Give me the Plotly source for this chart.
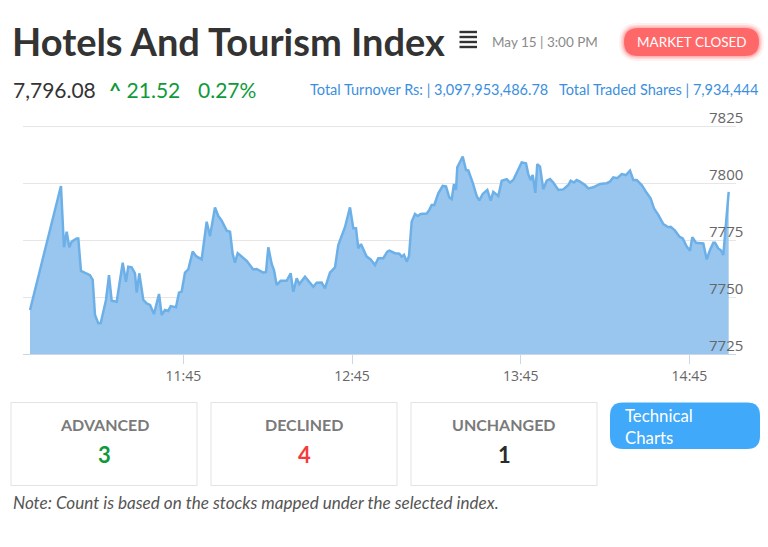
import plotly.graph_objects as go

# ---------------- data ----------------
DAY = "2024-05-15"
times = [
    "10:50:30", "11:01:30", "11:02:34", "11:03:32", "11:04:28", "11:05:19", "11:07:05", "11:07:40",
    "11:08:37", "11:11:49", "11:12:47", "11:13:36", "11:14:46", "11:15:38", "11:17:31", "11:18:35",
    "11:19:32", "11:21:19", "11:23:27", "11:24:37", "11:25:26", "11:26:39", "11:27:49", "11:28:26",
    "11:29:21", "11:30:47", "11:31:59", "11:33:10", "11:34:35", "11:36:22", "11:37:19", "11:38:29",
    "11:39:40", "11:40:31", "11:42:24", "11:43:28", "11:44:26", "11:45:36", "11:46:47", "11:48:20",
    "11:49:31", "11:51:32", "11:53:19", "11:54:30", "11:56:16", "11:57:27", "11:58:40", "12:00:26",
    "12:01:37", "12:02:34", "12:03:23", "12:04:21", "12:07:33", "12:09:53", "12:11:06", "12:13:27",
    "12:14:25", "12:15:14", "12:16:26", "12:17:15", "12:18:13", "12:19:38", "12:21:46", "12:23:11",
    "12:24:07", "12:25:20", "12:26:15", "12:28:17", "12:31:14", "12:32:26", "12:34:13", "12:35:23",
    "12:37:10", "12:38:57", "12:40:07", "12:42:30", "12:44:17", "12:45:28", "12:46:25", "12:47:14",
    "12:48:11", "12:50:13", "12:51:38", "12:53:10", "12:54:21", "12:56:07", "12:57:33", "12:58:16",
    "13:00:17", "13:01:49", "13:02:40", "13:03:29", "13:04:27", "13:05:16", "13:06:13", "13:07:24",
    "13:08:22", "13:09:25", "13:11:34", "13:12:29", "13:13:20", "13:14:16", "13:15:41", "13:17:15",
    "13:18:25", "13:19:35", "13:20:27", "13:21:16", "13:21:59", "13:22:26", "13:24:22", "13:25:32",
    "13:26:21", "13:27:55", "13:29:20", "13:30:16", "13:31:28", "13:33:07", "13:34:19", "13:35:14",
    "13:37:01", "13:38:14", "13:40:01", "13:41:11", "13:42:21", "13:44:08", "13:45:20", "13:46:52",
    "13:47:41", "13:48:32", "13:49:15", "13:50:11", "13:50:53", "13:51:51", "13:53:01", "13:54:14",
    "13:55:25", "13:56:35", "13:58:22", "14:00:08", "14:01:55", "14:02:46", "14:03:56", "14:04:54",
    "14:06:04", "14:07:51", "14:09:02", "14:10:48", "14:13:11", "14:15:34", "14:16:44", "14:17:55",
    "14:19:20", "14:20:54", "14:22:26", "14:23:51", "14:25:02", "14:26:14", "14:28:01", "14:29:47",
    "14:31:13", "14:32:23", "14:33:55", "14:35:42", "14:37:29", "14:38:20", "14:39:52", "14:41:23",
    "14:42:36", "14:44:01", "14:45:12", "14:46:01", "14:47:20", "14:49:55", "14:51:08", "14:52:18",
    "14:53:29", "14:54:05", "14:55:15", "14:56:07", "14:57:02", "14:58:57",
]
values = [
    7744.3, 7798.7, 7771.8, 7778.6, 7771.8, 7774.3, 7775.7, 7775.7,
    7761.4, 7759.6, 7757.5, 7742.1, 7738.5, 7738.6, 7748.7, 7759.6,
    7748.4, 7747.9, 7765.0, 7756.7, 7763.3, 7763.0, 7760.4, 7751.9,
    7760.4, 7748.7, 7747.2, 7746.5, 7742.5, 7751.3, 7742.1, 7744.3,
    7743.9, 7746.0, 7745.5, 7751.9, 7752.4, 7760.7, 7762.1, 7769.9,
    7768.0, 7766.5, 7783.0, 7776.7, 7789.3, 7785.5, 7783.5, 7779.1,
    7778.6, 7768.9, 7765.1, 7769.2, 7765.9, 7762.1, 7762.3, 7760.7,
    7761.0, 7771.8, 7764.5, 7761.8, 7755.3, 7757.1, 7757.1, 7760.4,
    7752.3, 7758.2, 7755.7, 7758.9, 7754.5, 7756.3, 7756.4, 7753.8,
    7760.7, 7763.0, 7772.8, 7780.6, 7789.3, 7780.1, 7780.1, 7771.3,
    7773.2, 7767.7, 7766.5, 7764.0, 7767.0, 7767.0, 7769.9, 7770.3,
    7769.2, 7769.0, 7767.7, 7768.5, 7765.5, 7768.0, 7783.0, 7786.4,
    7785.5, 7786.4, 7786.6, 7788.2, 7790.4, 7790.4, 7795.5, 7798.7,
    7798.5, 7793.7, 7792.9, 7799.6, 7797.0, 7806.9, 7811.6, 7805.7,
    7805.5, 7800.2, 7794.3, 7792.3, 7795.2, 7797.0, 7792.3, 7796.1,
    7794.3, 7801.0, 7801.7, 7800.2, 7801.3, 7806.4, 7809.0, 7808.6,
    7803.9, 7801.3, 7803.5, 7795.7, 7808.3, 7807.2, 7797.2, 7801.0,
    7801.7, 7800.2, 7797.0, 7797.2, 7799.1, 7801.0, 7800.2, 7801.3,
    7800.6, 7799.1, 7797.6, 7798.1, 7799.6, 7799.9, 7800.6, 7802.5,
    7802.1, 7803.9, 7803.5, 7805.4, 7801.3, 7801.3, 7799.1, 7795.7,
    7793.2, 7788.9, 7786.0, 7782.0, 7780.6, 7780.8, 7779.1, 7776.5,
    7775.7, 7772.1, 7770.3, 7776.2, 7773.8, 7773.5, 7766.5, 7770.6,
    7773.8, 7773.8, 7771.3, 7770.6, 7768.4, 7796.08,
]
x_tick_times = ["11:45", "12:45", "13:45", "14:45"]
y_ticks = [7725, 7750, 7775, 7800, 7825]
x_range_times = ["10:48:00", "15:01:33"]

title_text = "Hotels And Tourism Index"
date_text = "May 15 | 3:00 PM"
status_text = "MARKET CLOSED"
last_value = "7,796.08"
change_value = "21.52"
change_pct = "0.27%"
turnover_text = "Total Turnover Rs: | 3,097,953,486.78"
shares_text = "Total Traded Shares | 7,934,444"
box_labels = ["ADVANCED", "DECLINED", "UNCHANGED"]
box_counts = [3, 4, 1]
box_colors = ["#0e9a3a", "#f53b3b", "#2b2b2b"]
button_lines = ["Technical", "Charts"]
note_text = "Note: Count is based on the stocks mapped under the selected index."

# ---------------- layout helpers ----------------
W, H = 768, 547
FONT = "Lato"


def px(x):
    return x / W


def py(y):
    return 1 - y / H


def rrect(x0, y0, x1, y1, r):
    # rounded rectangle path in paper coords from pixel coords
    X0, X1 = px(x0), px(x1)
    Y0, Y1 = py(y0), py(y1)
    rx, ry = r / W, r / H
    return (f"M {X0+rx},{Y0} L {X1-rx},{Y0} Q {X1},{Y0} {X1},{Y0-ry} "
            f"L {X1},{Y1+ry} Q {X1},{Y1} {X1-rx},{Y1} L {X0+rx},{Y1} "
            f"Q {X0},{Y1} {X0},{Y1+ry} L {X0},{Y0-ry} Q {X0},{Y0} {X0+rx},{Y0} Z")


fig = go.Figure()
fig.add_trace(go.Scatter(
    x=[f"{DAY} {t}" for t in times], y=values, mode="lines",
    line=dict(color="#6db0e8", width=2.5),
    fill="tozeroy", fillcolor="rgba(152,198,238,1)",
    hoverinfo="skip", showlegend=False,
))

shapes = []
annotations = []

# menu icon
for yy in [32, 37, 42, 47]:
    shapes.append(dict(type="rect", xref="paper", yref="paper",
                       x0=px(459.5), x1=px(477), y0=py(yy - 1.2), y1=py(yy + 1.2),
                       fillcolor="#333333", line=dict(width=0)))

# market closed badge with glow
for grow, op in [(5, 0.10), (3, 0.18), (1.5, 0.28)]:
    shapes.append(dict(type="path", xref="paper", yref="paper",
                       path=rrect(624 - grow, 28 - grow, 759 + grow, 56 + grow, 14 + grow),
                       fillcolor=f"rgba(255,102,102,{op})", line=dict(width=0)))
shapes.append(dict(type="path", xref="paper", yref="paper",
                   path=rrect(624, 28, 759, 56, 14),
                   fillcolor="#ff6868", line=dict(width=0)))

# boxes
box_x = [(11, 197), (211, 397), (411, 597)]
for (x0, x1), lab, cnt, col in zip(box_x, box_labels, box_counts, box_colors):
    shapes.append(dict(type="rect", xref="paper", yref="paper",
                       x0=px(x0), x1=px(x1), y0=py(402.5), y1=py(485.5),
                       fillcolor="white", line=dict(color="#e3e3e3", width=1)))
    annotations.append(dict(x=px((x0 + x1) / 2), y=py(424.5), xref="paper", yref="paper",
                            text=f"<b>{lab}</b>", showarrow=False, xanchor="center", yanchor="middle",
                            font=dict(family=FONT, size=16, color="#7a7a7a")))
    annotations.append(dict(x=px((x0 + x1) / 2), y=py(454.5), xref="paper", yref="paper",
                            text=f"<b>{cnt}</b>", showarrow=False, xanchor="center", yanchor="middle",
                            font=dict(family=FONT, size=22, color=col)))

# technical charts button
shapes.append(dict(type="path", xref="paper", yref="paper",
                   path=rrect(610, 402.5, 760, 449, 13),
                   fillcolor="#41a9f9", line=dict(width=0)))
annotations.append(dict(x=px(623), y=py(426.5), xref="paper", yref="paper",
                        text="<br>".join(button_lines), align="left",
                        showarrow=False, xanchor="left", yanchor="middle",
                        font=dict(family=FONT, size=16.8, color="white")))

# header texts
annotations += [
    dict(x=px(10), y=py(41), text=f"<b>{title_text}</b>", xanchor="left",
         font=dict(family=FONT, size=38, color="#333333")),
    dict(x=px(490), y=py(42), text=date_text, xanchor="left",
         font=dict(family=FONT, size=13.5, color="#8a8a8a")),
    dict(x=px(691.5), y=py(42), text=status_text, xanchor="center",
         font=dict(family=FONT, size=13.5, color="white")),
    dict(x=px(11), y=py(90), text=last_value, xanchor="left",
         font=dict(family=FONT, size=21, color="#333333")),
    dict(x=px(107), y=py(90),
         text=f"<b>^</b> {change_value}", xanchor="left",
         font=dict(family=FONT, size=21, color="#0e9a3a")),
    dict(x=px(196), y=py(90), text=change_pct, xanchor="left",
         font=dict(family=FONT, size=21, color="#0e9a3a")),
    dict(x=px(760), y=py(89), text=f"{turnover_text}   {shares_text}", xanchor="right",
         font=dict(family=FONT, size=14.5, color="#3b8fde")),
    dict(x=px(11), y=py(502), text=f"<i>{note_text}</i>", xanchor="left",
         font=dict(family=FONT, size=17.1, color="#555555")),
]
for a in annotations:
    a.setdefault("xref", "paper")
    a.setdefault("yref", "paper")
    a.setdefault("showarrow", False)
    a.setdefault("yanchor", "middle")

# y range padded a little at the top so the 7825 grid line is drawn
Y_PAD = 0.6
PX_PER_UNIT = (354 - 126) / (y_ticks[-1] - y_ticks[0])

fig.update_layout(
    width=W, height=H,
    margin=dict(l=0, r=0, t=0, b=0, autoexpand=False),
    paper_bgcolor="white", plot_bgcolor="white",
    shapes=shapes, annotations=annotations,
    xaxis=dict(
        domain=[px(23), px(736)],
        type="date", automargin=False,
        range=[f"{DAY} {x_range_times[0]}", f"{DAY} {x_range_times[1]}"],
        tickvals=[f"{DAY} {t}" for t in x_tick_times],
        ticktext=x_tick_times,
        ticks="outside", ticklen=9, tickcolor="#ccd6eb", tickwidth=1,
        showline=True, linecolor="#ccd6eb", linewidth=1,
        showgrid=False, zeroline=False,
        tickfont=dict(family="Open Sans", size=14, color="#666666"),
        fixedrange=True,
    ),
    yaxis=dict(
        domain=[py(354), py(126 - Y_PAD * PX_PER_UNIT)],
        automargin=False,
        range=[y_ticks[0], y_ticks[-1] + Y_PAD],
        tickvals=y_ticks,
        side="right", ticklabelposition="outside",
        ticklabelshift=-8, ticklabelstandoff=-28,
        showgrid=True, gridcolor="#e6e6e6", gridwidth=1,
        zeroline=False, showline=False, ticks="",
        tickfont=dict(family="Open Sans", size=15, color="#666666"),
        fixedrange=True,
    ),
)

fig.write_html("out.html")
